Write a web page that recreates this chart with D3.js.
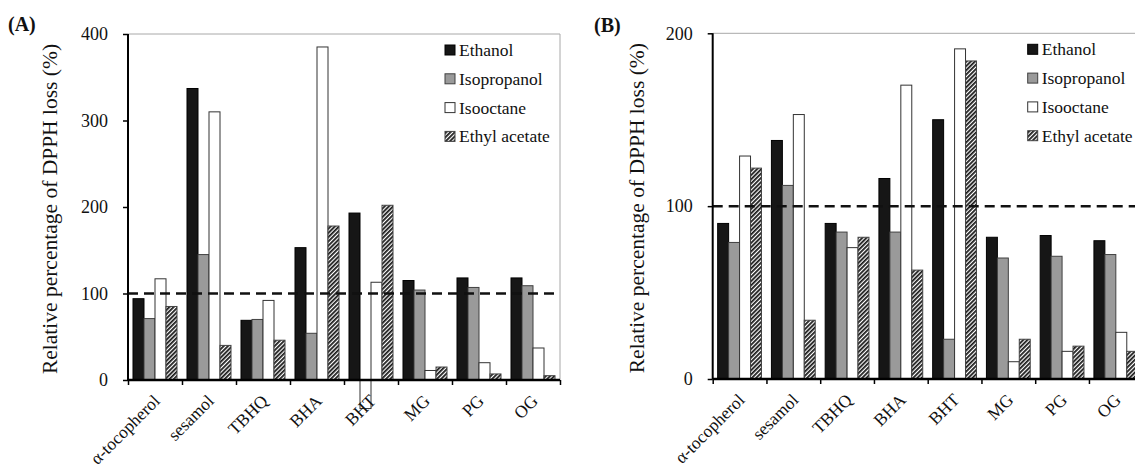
<!DOCTYPE html>
<html>
<head>
  <meta charset="UTF-8">
  <title>DPPH loss</title>
  <script src="https://cdn.jsdelivr.net/npm/d3@7"></script>
  <style>
    body { margin: 0; background: #fff; }
    svg text { font-family: "Liberation Serif", "Times New Roman", serif !important; }
  </style>
</head>
<body>

<div class="chart"></div>

<script>

  var categories = ['α-tocopherol', 'sesamol', 'TBHQ', 'BHA', 'BHT', 'MG', 'PG', 'OG'];
  var seriesNames = ['Ethanol', 'Isopropanol', 'Isooctane', 'Ethyl acetate'];

  // panel (A)
  var ethanolA     = [94, 337, 69, 153, 193, 115, 118, 118];
  var isopropanolA = [71, 145, 70, 54, -33, 104, 107, 109];
  var isooctaneA   = [117, 310, 92, 385, 113, 11, 20, 37];
  var ethylA       = [85, 40, 46, 178, 202, 15, 7, 5];
  var ticksA = [0, 100, 200, 300, 400];

  // panel (B)
  var ethanolB     = [90, 138, 90, 116, 150, 82, 83, 80];
  var isopropanolB = [79, 112, 85, 85, 23, 70, 71, 72];
  var isooctaneB   = [129, 153, 76, 170, 191, 10, 16, 27];
  var ethylB       = [122, 34, 82, 63, 184, 23, 19, 16];
  var ticksB = [0, 100, 200];

  var refLine = 100;
  var yTitle = 'Relative percentage of DPPH loss (%)';

  var fills = ['#161616', '#9a9a9a', '#ffffff', 'url(#hatch)'];
  var strokes = ['#000', '#404040', '#333', '#444'];

  var svg = d3.select('.chart')
    .append('svg')
      .attr('width', 1135)
      .attr('height', 465);

  // diagonal hatch for ethyl acetate
  var pat = svg.append('defs').append('pattern')
      .attr('id', 'hatch')
      .attr('patternUnits', 'userSpaceOnUse')
      .attr('width', 3)
      .attr('height', 3)
      .attr('patternTransform', 'rotate(45)');
  pat.append('rect').attr('width', 3).attr('height', 3).attr('fill', '#fff');
  pat.append('line')
      .attr('x1', 0.9).attr('y1', 0).attr('x2', 0.9).attr('y2', 3)
      .attr('stroke', '#1a1a1a').attr('stroke-width', 1.8);

  drawPanel({
    label: '(A)', labelX: 8, labelY: 31,
    left: 128, right: 560, top: 34, bottom: 380,
    max: 400, ticks: ticksA, titleX: 50,
    series: [ethanolA, isopropanolA, isooctaneA, ethylA]
  });

  drawPanel({
    label: '(B)', labelX: 594, labelY: 32,
    left: 712.7, right: 1142.7, top: 33.3, bottom: 379,
    max: 200, ticks: ticksB, titleX: 637,
    series: [ethanolB, isopropanolB, isooctaneB, ethylB]
  });

  function drawPanel(p) {
    var g = svg.append('g');

    var x = d3.scaleBand()
      .domain(categories)
      .range([p.left, p.right])
      .paddingInner(0.185)
      .paddingOuter(0.0925);

    var xSub = d3.scaleBand()
      .domain(seriesNames)
      .range([0, x.bandwidth()]);

    var y = d3.scaleLinear()
      .domain([0, p.max])
      .range([p.bottom, p.top]);

    // boundaries between categories, for the bottom ticks
    var xEdge = d3.scaleLinear()
      .domain([0, categories.length])
      .range([p.left, p.right]);

    // plot-area frame (top and right)
    g.append('path')
      .attr('d', 'M' + p.left + ',' + y(p.max) + 'H' + p.right + 'V' + y(0))
      .attr('fill', 'none')
      .attr('stroke', '#a8a8a8')
      .attr('stroke-width', 1);

    // bars
    var rows = [];
    categories.forEach(function (c, i) {
      seriesNames.forEach(function (s, j) {
        rows.push({ cat: c, s: s, j: j, v: p.series[j][i] });
      });
    });

    g.selectAll('.bar')
      .data(rows)
      .enter()
      .append('rect')
        .attr('class', 'bar')
        .attr('x', d => x(d.cat) + xSub(d.s))
        .attr('width', xSub.bandwidth())
        .attr('y', d => y(Math.max(0, d.v)))
        .attr('height', d => Math.abs(y(d.v) - y(0)))
        // negative values drawn inverted (white), as in the original
        .attr('fill', d => d.v < 0 ? '#fff' : fills[d.j])
        .attr('stroke', d => d.v < 0 ? '#333' : strokes[d.j])
        .attr('stroke-width', 1);

    // 100 % reference line
    g.append('line')
      .attr('x1', p.left)
      .attr('x2', p.right - 3)
      .attr('y1', y(refLine))
      .attr('y2', y(refLine))
      .attr('stroke', '#111')
      .attr('stroke-width', 2.5)
      .attr('stroke-dasharray', '10,6');

    // y axis
    var yAxis = d3.axisLeft(y)
      .tickValues(p.ticks)
      .tickSize(5)
      .tickPadding(15);
    var ya = g.append('g')
      .attr('transform', 'translate(' + p.left + ',0)')
      .call(yAxis);
    ya.attr('font-family', null);
    ya.select('.domain').attr('stroke-width', 2).attr('d', 'M0,' + y(p.max) + 'V' + y(0));
    ya.selectAll('.tick line').attr('stroke-width', 1.5);
    ya.selectAll('text')
      .attr('font-size', 18)
      .attr('fill', '#111');

    // x axis: ticks at category boundaries
    var xAxis = d3.axisBottom(xEdge)
      .tickValues(d3.range(categories.length + 1))
      .tickSize(5)
      .tickFormat('');
    var xa = g.append('g')
      .attr('transform', 'translate(0,' + y(0) + ')')
      .call(xAxis);
    xa.select('.domain').attr('stroke-width', 2.5).attr('d', 'M' + p.left + ',0H' + p.right);
    xa.selectAll('.tick line').attr('stroke-width', 1.5);

    // rotated category labels
    g.selectAll('.xlab')
      .data(categories)
      .enter()
      .append('text')
        .attr('class', 'xlab')
        .attr('text-anchor', 'end')
        .attr('font-size', 17.5)
        .attr('fill', '#111')
        .attr('transform', d => {
          var cx = x(d) + x.bandwidth() / 2 + 6;
          return `translate(${cx}, ${y(0) + 22}) rotate(-45)`;
        })
        .text(d => d);

    // y axis title
    g.append('text')
      .attr('text-anchor', 'middle')
      .attr('font-size', 21.5)
      .attr('fill', '#111')
      .attr('transform', `translate(${p.titleX + 7}, ${(p.top + p.bottom) / 2 + 2}) rotate(-90)`)
      .text(yTitle);

    // panel label
    g.append('text')
      .attr('x', p.labelX)
      .attr('y', p.labelY)
      .attr('font-size', 20)
      .attr('font-weight', 'bold')
      .attr('fill', '#111')
      .text(p.label);

    // legend
    var leg = g.selectAll('.leg')
      .data(seriesNames)
      .enter()
      .append('g')
        .attr('class', 'leg')
        .attr('transform', (d, i) => `translate(${p.right - 115}, ${p.top + 16 + i * 28.8})`);
    leg.append('rect')
      .attr('x', 0)
      .attr('y', -5)
      .attr('width', 10)
      .attr('height', 10)
      .attr('fill', (d, i) => fills[i])
      .attr('stroke', (d, i) => strokes[i])
      .attr('stroke-width', 1);
    leg.append('text')
      .attr('x', 14)
      .attr('y', 6)
      .attr('font-size', 17.5)
      .attr('fill', '#111')
      .text(d => d);
  }

</script>

</body>
</html>
